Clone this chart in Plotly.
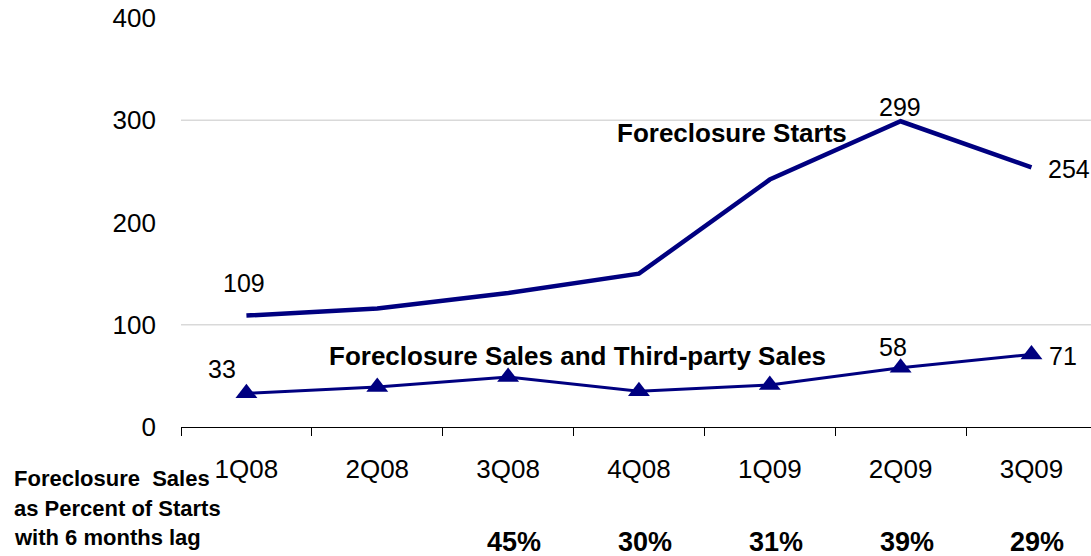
import plotly.graph_objects as go

quarters = ["1Q08", "2Q08", "3Q08", "4Q08", "1Q09", "2Q09", "3Q09"]
starts = [109, 116, 131, 150, 242, 299, 254]
sales = [33, 39, 49, 35, 41, 58, 71]
pct_quarters = ["3Q08", "4Q08", "1Q09", "2Q09", "3Q09"]
pct_labels = ["45%", "30%", "31%", "39%", "29%"]
grid_values = [100, 300]
y_ticks = [0, 100, 200, 300, 400]
side_note = ["Foreclosure  Sales", "as Percent of Starts", "with 6 months lag"]

navy = "#000080"
font = "Liberation Sans, Arial, sans-serif"

W, H = 1091, 556
ML, MR, MT, MB = 181, 0, 18, 128.5
PH = H - MT - MB  # plot height in px
BOTTOM = H - MB   # page y of plot bottom

fig = go.Figure()
fig.add_trace(go.Scatter(x=quarters, y=starts, mode="lines",
                         line=dict(color=navy, width=4.5)))
fig.add_trace(go.Scatter(x=quarters, y=sales, mode="lines+markers",
                         line=dict(color=navy, width=3),
                         marker=dict(symbol="triangle-up", size=19, color=navy)))

for g in grid_values:
    fig.add_shape(type="line", xref="paper", x0=0, x1=1, yref="y", y0=g, y1=g,
                  line=dict(color="#d9d9d9", width=1.5), layer="below")

def lab(x, y, text, xs=0, ys=0, xanchor="center"):
    fig.add_annotation(x=x, y=y, text=text, showarrow=False, xshift=xs, yshift=ys,
                       xanchor=xanchor, font=dict(family=font, size=25, color="black"))

lab(quarters[0], starts[0], str(starts[0]), xs=-2, ys=33)
lab(quarters[5], starts[5], str(starts[5]), xs=-1, ys=14)
lab(quarters[6], starts[6], str(starts[6]), xs=15, ys=-2, xanchor="left")
lab(quarters[0], sales[0], str(sales[0]), xs=-24, ys=24)
lab(quarters[5], sales[5], str(sales[5]), xs=-8, ys=21)
lab(quarters[6], sales[6], str(sales[6]), xs=16, ys=-2, xanchor="left")

fig.add_annotation(x=3.708, y=288, text="<b>Foreclosure Starts</b>", showarrow=False,
                   font=dict(family=font, size=26, color="black"))
fig.add_annotation(x=2.534, y=69, text="<b>Foreclosure Sales and Third-party Sales</b>",
                   showarrow=False, font=dict(family=font, size=26, color="black"))

for line, py in zip(side_note, [479, 509, 538]):
    fig.add_annotation(xref="paper", yref="paper", x=(12 - ML) / (W - ML - MR),
                       y=(BOTTOM - py) / PH,
                       xanchor="left", yanchor="middle", showarrow=False,
                       text="<b>" + line + "</b>",
                       font=dict(family=font, size=22, color="black"))

for q, p in zip(pct_quarters, pct_labels):
    fig.add_annotation(x=q, xshift=6, yref="paper", y=(BOTTOM - 543) / PH, yanchor="middle",
                       text="<b>" + p + "</b>", showarrow=False,
                       font=dict(family=font, size=27, color="black"))

fig.update_layout(
    width=W, height=H,
    margin=dict(l=ML, r=MR, t=MT, b=MB, pad=0),
    plot_bgcolor="white", paper_bgcolor="white",
    showlegend=False,
    font=dict(family=font, size=26, color="black"),
    xaxis=dict(type="category", range=[-0.5, 6.455], showgrid=False,
               showline=True, linecolor="#000000", linewidth=1,
               ticks="outside", tickson="boundaries", ticklen=8, tickcolor="#000000",
               ticklabelstandoff=19, tickfont=dict(family=font, size=26)),
    yaxis=dict(range=[0, 400], tickvals=y_ticks, showgrid=False, zeroline=False,
               showline=False, ticklabelstandoff=24, tickfont=dict(family=font, size=26)),
)

fig.write_html("out.html", config={"displayModeBar": False},
               post_script="document.body.style.margin='0';document.body.style.overflow='hidden';")
